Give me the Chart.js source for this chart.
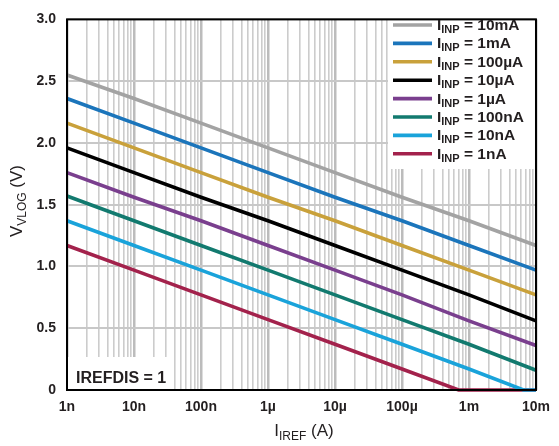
<!DOCTYPE html>
<html>
<head>
<meta charset="utf-8">
<script src="https://cdn.jsdelivr.net/npm/chart.js@4/dist/chart.umd.min.js"></script>
<style>
  html, body { margin: 0; padding: 0; background: #fff; }
  #wrap { width: 559px; height: 446px; position: relative; }
</style>
</head>
<body>
<div id="wrap"><canvas id="c" width="559" height="446"></canvas></div>
<script>
// ---- Data ----
const xDecades = [1e-9, 1e-8, 1e-7, 1e-6, 1e-5, 1e-4, 1e-3, 1e-2];
const xTickLabels = ['1n', '10n', '100n', '1µ', '10µ', '100µ', '1m', '10m'];
const yTickLabels = ['0', '0.5', '1.0', '1.5', '2.0', '2.5', '3.0'];
const seriesLabels = ['10mA', '1mA', '100µA', '10µA', '1µA', '100nA', '10nA', '1nA'];
const seriesColors = ['#a3a3a3', '#1b75bb', '#c9a13b', '#000000', '#7a3f8e', '#127a6f', '#1aa3da', '#a3224c'];

const v10mA  = [2.55, 2.36, 2.16, 1.96, 1.76, 1.56, 1.37, 1.17];
const v1mA   = [2.36, 2.16, 1.96, 1.76, 1.56, 1.37, 1.17, 0.97];
const v100uA = [2.16, 1.96, 1.76, 1.56, 1.37, 1.17, 0.97, 0.77];
const v10uA  = [1.96, 1.76, 1.56, 1.37, 1.17, 0.97, 0.77, 0.56];
const v1uA   = [1.76, 1.56, 1.37, 1.17, 0.97, 0.77, 0.56, 0.36];
const v100nA = [1.57, 1.37, 1.17, 0.97, 0.77, 0.57, 0.37, 0.16];
const x10nA  = [1e-9, 1e-8, 1e-7, 1e-6, 1e-5, 1e-4, 1e-3, 6.5e-3, 1e-2];
const v10nA  = [1.37, 1.17, 0.97, 0.77, 0.57, 0.37, 0.17, 0, 0];
const x1nA   = [1e-9, 1e-8, 1e-7, 1e-6, 1e-5, 1e-4, 7e-4, 1e-3, 1e-2];
const v1nA   = [1.17, 0.97, 0.77, 0.57, 0.37, 0.17, 0, 0, 0];

const seriesX = [xDecades, xDecades, xDecades, xDecades, xDecades, xDecades, x10nA, x1nA];
const seriesY = [v10mA, v1mA, v100uA, v10uA, v1uA, v100nA, v10nA, v1nA];

// minor ticks for the log grid: 1..9 x each decade
const xGridTicks = [];
xDecades.forEach((d, i) => {
  if (i === xDecades.length - 1) { xGridTicks.push(d); return; }
  for (let m = 1; m <= 9; m++) xGridTicks.push(m * d);
});

const FONT = '"Liberation Sans", Arial, Helvetica, sans-serif';
const TXT = '#231f20';

const isDecade = (v) => xDecades.some(d => Math.abs(v / d - 1) < 1e-6);

const datasets = seriesY.map((ys, i) => ({
  label: seriesLabels[i],
  data: ys.map((y, j) => ({ x: seriesX[i][j], y })),
  borderColor: seriesColors[i],
  backgroundColor: seriesColors[i],
  borderWidth: 3.6,
  pointRadius: 0,
  tension: 0,
  clip: 4
}));

function drawSubText(ctx, x, y, parts) {
  let cx = x;
  parts.forEach(p => {
    ctx.font = (p.bold ? 'bold ' : '') + p.size + 'px ' + FONT;
    ctx.fillText(p.t, cx, y + (p.dy || 0));
    cx += ctx.measureText(p.t).width;
  });
  return cx - x;
}
function measureParts(ctx, parts) {
  let w = 0;
  parts.forEach(p => {
    ctx.font = (p.bold ? 'bold ' : '') + p.size + 'px ' + FONT;
    w += ctx.measureText(p.t).width;
  });
  return w;
}

const decorPlugin = {
  id: 'decor',
  beforeDatasetsDraw(chart) {
    const { ctx, chartArea: a } = chart;
    ctx.save();
    ctx.fillStyle = '#ffffff';
    ctx.fillRect(388, a.top, a.right - 388, 169 - a.top);
    ctx.fillRect(a.left, 357, 168 - a.left, a.bottom - 357);
    ctx.restore();
  },
  afterDatasetsDraw(chart) {
    const { ctx, chartArea: a } = chart;
    ctx.save();
    ctx.strokeStyle = '#000';
    ctx.lineWidth = 2;
    ctx.strokeRect(a.left, a.top, a.right - a.left, a.bottom - a.top);

    ctx.textBaseline = 'alphabetic';
    ctx.textAlign = 'left';
    seriesLabels.forEach((lab, i) => {
      const yc = 25 + i * 18.4;
      ctx.strokeStyle = seriesColors[i];
      ctx.lineWidth = 3.6;
      ctx.beginPath();
      ctx.moveTo(393, yc);
      ctx.lineTo(432, yc);
      ctx.stroke();
      ctx.fillStyle = TXT;
      drawSubText(ctx, 437, yc + 5, [
        { t: 'I', size: 15.5, bold: true },
        { t: 'INP', size: 11, bold: true, dy: 3 },
        { t: ' = ' + lab, size: 15.5, bold: true }
      ]);
    });

    ctx.fillStyle = TXT;
    ctx.font = 'bold 16px ' + FONT;
    ctx.fillText('IREFDIS = 1', 76, 383);

    const xParts = [
      { t: 'I', size: 17, bold: false },
      { t: 'IREF', size: 12, bold: false, dy: 4 },
      { t: ' (A)', size: 17, bold: false }
    ];
    const xw = measureParts(ctx, xParts);
    drawSubText(ctx, 304 - xw / 2, 436, xParts);

    const yParts = [
      { t: 'V', size: 17, bold: false },
      { t: 'VLOG', size: 12, bold: false, dy: 4 },
      { t: ' (V)', size: 17, bold: false }
    ];
    const yw = measureParts(ctx, yParts);
    ctx.translate(22, 201);
    ctx.rotate(-Math.PI / 2);
    drawSubText(ctx, -yw / 2, 0, yParts);
    ctx.restore();
  }
};

new Chart(document.getElementById('c'), {
  type: 'line',
  data: { datasets },
  options: {
    responsive: false,
    animation: false,
    events: [],
    layout: { padding: { left: 0, right: 18, top: 12, bottom: 0 } },
    plugins: { legend: { display: false }, tooltip: { enabled: false } },
    scales: {
      x: {
        type: 'logarithmic',
        min: 1e-9,
        max: 1e-2,
        afterBuildTicks(scale) {
          scale.ticks = xGridTicks.map(v => ({ value: v, major: isDecade(v) }));
        },
        afterFit(scale) { scale.height = 56; },
        border: { display: false },
        grid: {
          drawTicks: false,
          color: (c) => (c.tick && isDecade(c.tick.value)) ? '#bcbcbc' : '#cccccc',
          lineWidth: (c) => (c.tick && isDecade(c.tick.value)) ? 2.5 : 1.6
        },
        ticks: {
          autoSkip: false,
          maxRotation: 0,
          padding: 9,
          color: TXT,
          font: { family: FONT, size: 14, weight: 'bold' },
          callback(value) {
            const k = xDecades.findIndex(d => Math.abs(value / d - 1) < 1e-6);
            return k >= 0 ? xTickLabels[k] : '';
          }
        }
      },
      y: {
        type: 'linear',
        min: 0,
        max: 3,
        afterFit(scale) { scale.width = 67; },
        border: { display: false },
        grid: { drawTicks: false, color: '#c8c8c8', lineWidth: 2 },
        ticks: {
          stepSize: 0.5,
          padding: 11,
          color: TXT,
          font: { family: FONT, size: 14, weight: 'bold' },
          callback(value) {
            const k = Math.round(value / 0.5);
            return yTickLabels[k];
          }
        }
      }
    }
  },
  plugins: [decorPlugin]
});
</script>
</body>
</html>
